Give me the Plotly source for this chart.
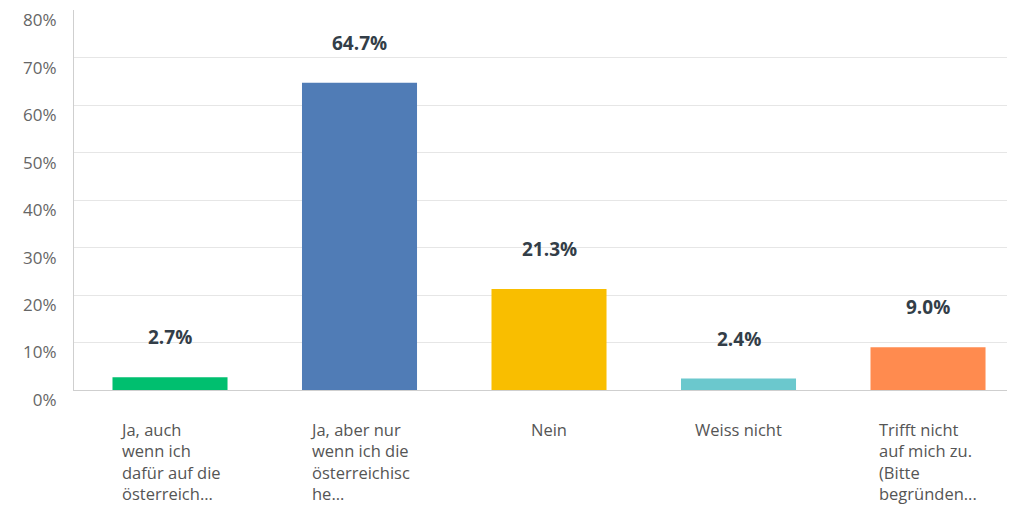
import plotly.graph_objects as go

categories = [
    "Ja, auch<br>wenn ich<br>dafür auf die<br>österreich...",
    "Ja, aber nur<br>wenn ich die<br>österreichisc<br>he...",
    "Nein",
    "Weiss nicht",
    "Trifft nicht<br>auf mich zu.<br>(Bitte<br>begründen...",
]
values = [2.7, 64.7, 21.3, 2.4, 9.0]
colors = ["#00BF6F", "#507CB6", "#F9BE00", "#6BC8CD", "#FF8B4F"]
y_ticks = [0, 10, 20, 30, 40, 50, 60, 70, 80]
y_tick_labels = [f"{t}%" for t in y_ticks]

FONT = "Open Sans"
xs = list(range(len(categories)))

fig = go.Figure()
fig.add_trace(go.Bar(
    x=xs, y=values, marker=dict(color=colors, line=dict(width=0)),
    width=0.607, hoverinfo="skip",
))

for x, v in zip(xs, values):
    fig.add_annotation(x=x, y=v, text=f"<b>{v:.1f}%</b>", showarrow=False,
                       yshift=40, font=dict(family=FONT, size=19, color="#333E48"))

for x, c in zip(xs, categories):
    fig.add_annotation(x=x, y=0, yref="y", text=c, showarrow=False, align="left",
                       xanchor="center", yanchor="top", yshift=-26,
                       font=dict(family=FONT, size=16.5, color="#555"))

fig.update_layout(
    width=1007, height=510,
    margin=dict(l=66, r=0, t=2, b=128, autoexpand=False),
    paper_bgcolor="white", plot_bgcolor="white",
    showlegend=False,
    xaxis=dict(range=[-0.5066, 4.459], showticklabels=False, showgrid=False,
               zeroline=False, showline=True, linecolor="#cfcfcf", linewidth=1,
               automargin=False),
    yaxis=dict(range=[0, 80.05], tickvals=y_ticks, ticktext=y_tick_labels,
               showgrid=True, gridcolor="#e6e6e6", gridwidth=1,
               zeroline=False, showline=True, linecolor="#cfcfcf", linewidth=1,
               ticks="", ticklabelstandoff=13, ticklabelshift=10,
               ticklabeloverflow="allow",
               automargin=False,
               tickfont=dict(family=FONT, size=17, color="#666")),
)

fig.write_html("out.html")
